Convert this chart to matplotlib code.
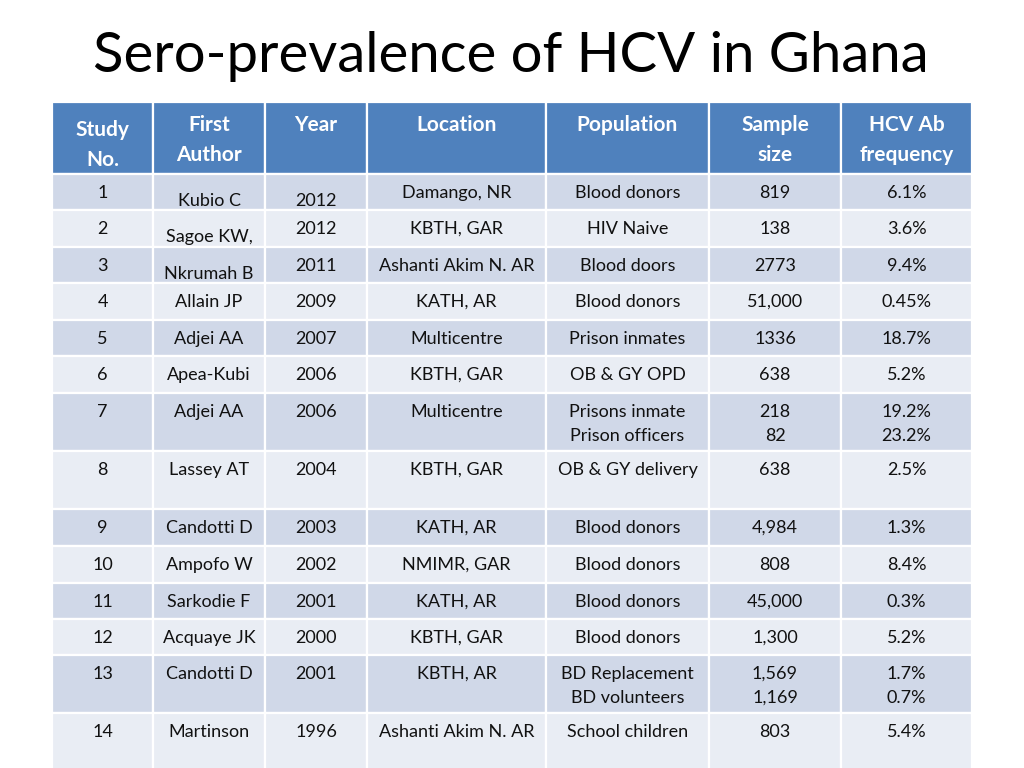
import matplotlib
matplotlib.use("Agg")
import matplotlib.pyplot as plt
from matplotlib.patches import Rectangle

plt.rcParams['font.family'] = ['Lato', 'DejaVu Sans']

title = "Sero-prevalence of HCV in Ghana"
headers = ["Study\nNo.", "First\nAuthor", "Year", "Location", "Population", "Sample\nsize", "HCV Ab\nfrequency"]
study_no = ["1", "2", "3", "4", "5", "6", "7", "8", "9", "10", "11", "12", "13", "14"]
authors = ["Kubio C", "Sagoe KW,", "Nkrumah B", "Allain JP", "Adjei AA", "Apea-Kubi", "Adjei AA",
           "Lassey AT", "Candotti D", "Ampofo W", "Sarkodie F", "Acquaye JK", "Candotti D", "Martinson"]
years = ["2012", "2012", "2011", "2009", "2007", "2006", "2006", "2004", "2003", "2002", "2001", "2000", "2001", "1996"]
locations = ["Damango, NR", "KBTH, GAR", "Ashanti Akim N. AR", "KATH, AR", "Multicentre", "KBTH, GAR",
             "Multicentre", "KBTH, GAR", "KATH, AR", "NMIMR, GAR", "KATH, AR", "KBTH, GAR", "KBTH, AR",
             "Ashanti Akim N. AR"]
populations = ["Blood donors", "HIV Naive", "Blood doors", "Blood donors", "Prison inmates", "OB & GY OPD",
               "Prisons inmate\nPrison officers", "OB & GY delivery", "Blood donors", "Blood donors",
               "Blood donors", "Blood donors", "BD Replacement\nBD volunteers", "School children"]
sample_sizes = ["819", "138", "2773", "51,000", "1336", "638", "218\n82", "638", "4,984", "808",
                "45,000", "1,300", "1,569\n1,169", "803"]
frequencies = ["6.1%", "3.6%", "9.4%", "0.45%", "18.7%", "5.2%", "19.2%\n23.2%", "2.5%", "1.3%",
               "8.4%", "0.3%", "5.2%", "1.7%\n0.7%", "5.4%"]

columns = [study_no, authors, years, locations, populations, sample_sizes, frequencies]

# layout (pixels)
col_edges = [52, 153, 265, 367, 546, 709, 841, 972]
row_edges = [102, 174, 210, 247, 283, 320, 356, 393, 451, 509, 546, 583, 619, 655, 713, 775]
# some cells in the original sit lower than the rest of their row
low_cells = {(0, 1): 8, (0, 2): 8, (1, 1): 8, (2, 1): 8}

HEADER = "#4F81BD"
DARK = "#D0D8E8"
LIGHT = "#E9EDF4"

fig = plt.figure(figsize=(10.24, 7.68), dpi=100)
ax = fig.add_axes([0, 0, 1, 1])
ax.set_xlim(0, 1024)
ax.set_ylim(768, 0)
ax.axis('off')

ax.text(511, 57, title, ha='center', va='center', fontsize=40.5, color='#000000')

# header
for c in range(7):
    x0, x1 = col_edges[c], col_edges[c + 1]
    ax.add_patch(Rectangle((x0, row_edges[0]), x1 - x0, row_edges[1] - row_edges[0],
                           facecolor=HEADER, edgecolor='white', linewidth=1.6))
    lines = headers[c].split("\n")
    y0 = 130 if c == 0 else 125
    for i, ln in enumerate(lines):
        ax.text((x0 + x1) / 2, y0 + 30 * i, ln, ha='center', va='center',
                fontsize=15, fontweight='bold', color='white')

# body
for r in range(len(study_no)):
    top, bot = row_edges[r + 1], row_edges[r + 2]
    color = DARK if r % 2 == 0 else LIGHT
    for c in range(7):
        x0, x1 = col_edges[c], col_edges[c + 1]
        ax.add_patch(Rectangle((x0, top), x1 - x0, bot - top,
                               facecolor=color, edgecolor='white', linewidth=1.6))
        lines = columns[c][r].split("\n")
        y0 = top + 19 + low_cells.get((r, c), 0)
        for i, ln in enumerate(lines):
            ax.text((x0 + x1) / 2, y0 + 24 * i, ln, ha='center', va='center',
                    fontsize=13, color='#111111')

fig.savefig("out.png", dpi=100)
